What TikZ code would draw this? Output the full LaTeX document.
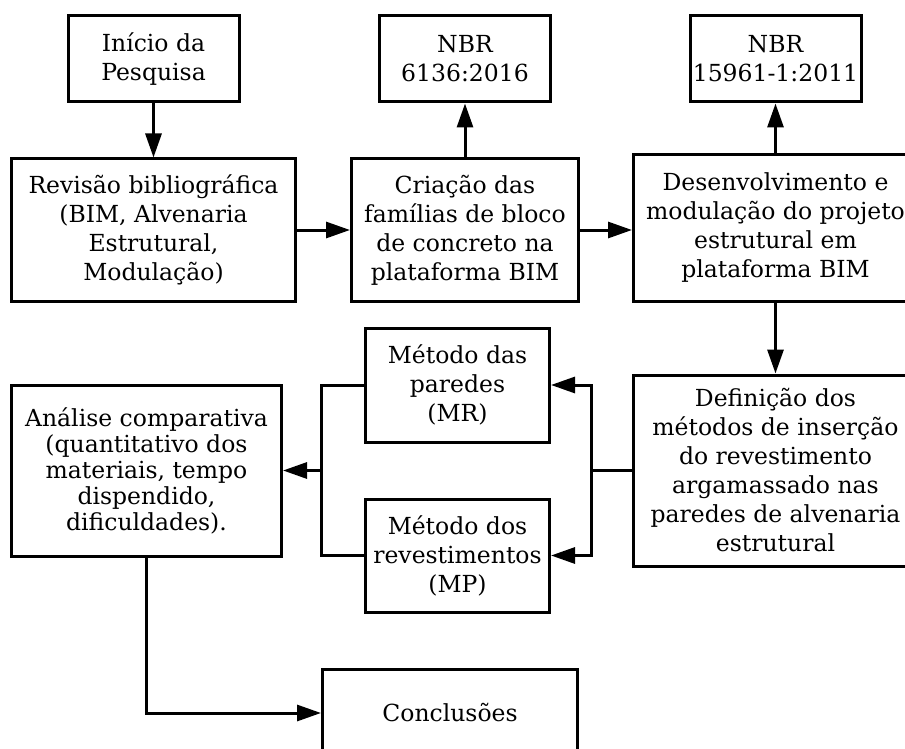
\documentclass[tikz,border=0pt]{standalone}
\usepackage{fontspec}
\setmainfont{DejaVu Serif}
\usetikzlibrary{arrows.meta}

\begin{document}
\begin{tikzpicture}[
  x=1pt, y=-1pt,
  node distance=170pt,
  box/.style={rectangle, draw=black, line width=3pt, align=center, inner sep=2pt,
    font=\fontsize{23.5}{29}\selectfont},
  normbox/.style={box, minimum width=171pt, minimum height=86pt},
  arrow/.style={-{Triangle[length=24pt, width=16pt]}, line width=3pt},
  link/.style={line width=3pt}
]
\useasboundingbox (0,0) rectangle (905,749);
\clip (0,0) rectangle (905,749);

% Top row
\node[normbox] (inicio) at (153.5,59) {Início da\\Pesquisa};
\node[box, below of=inicio, node distance=171pt, minimum width=284pt, minimum height=142pt] (revisao)
  {Revisão bibliográfica\\(BIM, Alvenaria\\Estrutural,\\Modulação)};
\node[box, right of=revisao, node distance=311.5pt, minimum width=227pt, minimum height=142pt] (criacao)
  {Criação das\\famílias de bloco\\de concreto na\\plataforma BIM};
\node[normbox, above of=criacao, node distance=171pt] (nbr6136) {NBR\\6136:2016};
\node[box, right of=criacao, node distance=310.5pt, yshift=2pt, minimum width=284pt, minimum height=146pt] (desenv)
  {Desenvolvimento e\\modulação do projeto\\estrutural em\\plataforma BIM};
\node[normbox, above of=desenv, node distance=169pt] (nbr15961) {NBR\\15961-1:2011};

\draw[arrow] (inicio) -- (revisao);
\draw[arrow] (revisao.east) -- (criacao.west);
\draw[arrow] (criacao) -- (nbr6136);
\draw[arrow] (criacao.east) -- (criacao.east -| desenv.west);
\draw[arrow] (desenv) -- (nbr15961);

% Methods
\node[box, below of=desenv, node distance=242.5pt, minimum width=284pt, minimum height=191pt] (definicao)
  {Definição dos\\métodos de inserção\\do revestimento\\argamassado nas\\paredes de alvenaria\\estrutural};
\node[box, font=\fontsize{23.5}{26}\selectfont, left of=definicao, node distance=629pt, minimum width=270pt, minimum height=171pt] (analise)
  {Análise comparativa\\(quantitativo dos\\materiais, tempo\\dispendido,\\dificuldades).};
\node[box, right of=analise, node distance=311pt, yshift=85.5pt, minimum width=184pt, minimum height=114pt] (paredes)
  {Método das\\paredes\\(MR)};
\node[box, right of=analise, node distance=311pt, yshift=-85pt, minimum width=184pt, minimum height=113pt] (revest)
  {Método dos\\revestimentos\\(MP)};

\draw[arrow] (desenv) -- (definicao);
\draw[link] (definicao.west) -- ++(-41,0) coordinate (split);
\draw[arrow] (split) |- (paredes.east);
\draw[arrow] (split) |- (revest.east);
\draw[link] (paredes.west) -- ++(-43,0) coordinate (jointop) -- (jointop |- revest.west) -- (revest.west);
\coordinate (join) at (jointop |- analise.east);
\draw[arrow] (join) -- (analise.east);

% Conclusion
\node[box, below of=analise, node distance=242.5pt, xshift=303.5pt, minimum width=255pt, minimum height=88pt] (conclusoes)
  {Conclusões};
\draw[arrow] (analise.south) |- (conclusoes.west);

\end{tikzpicture}
\end{document}
